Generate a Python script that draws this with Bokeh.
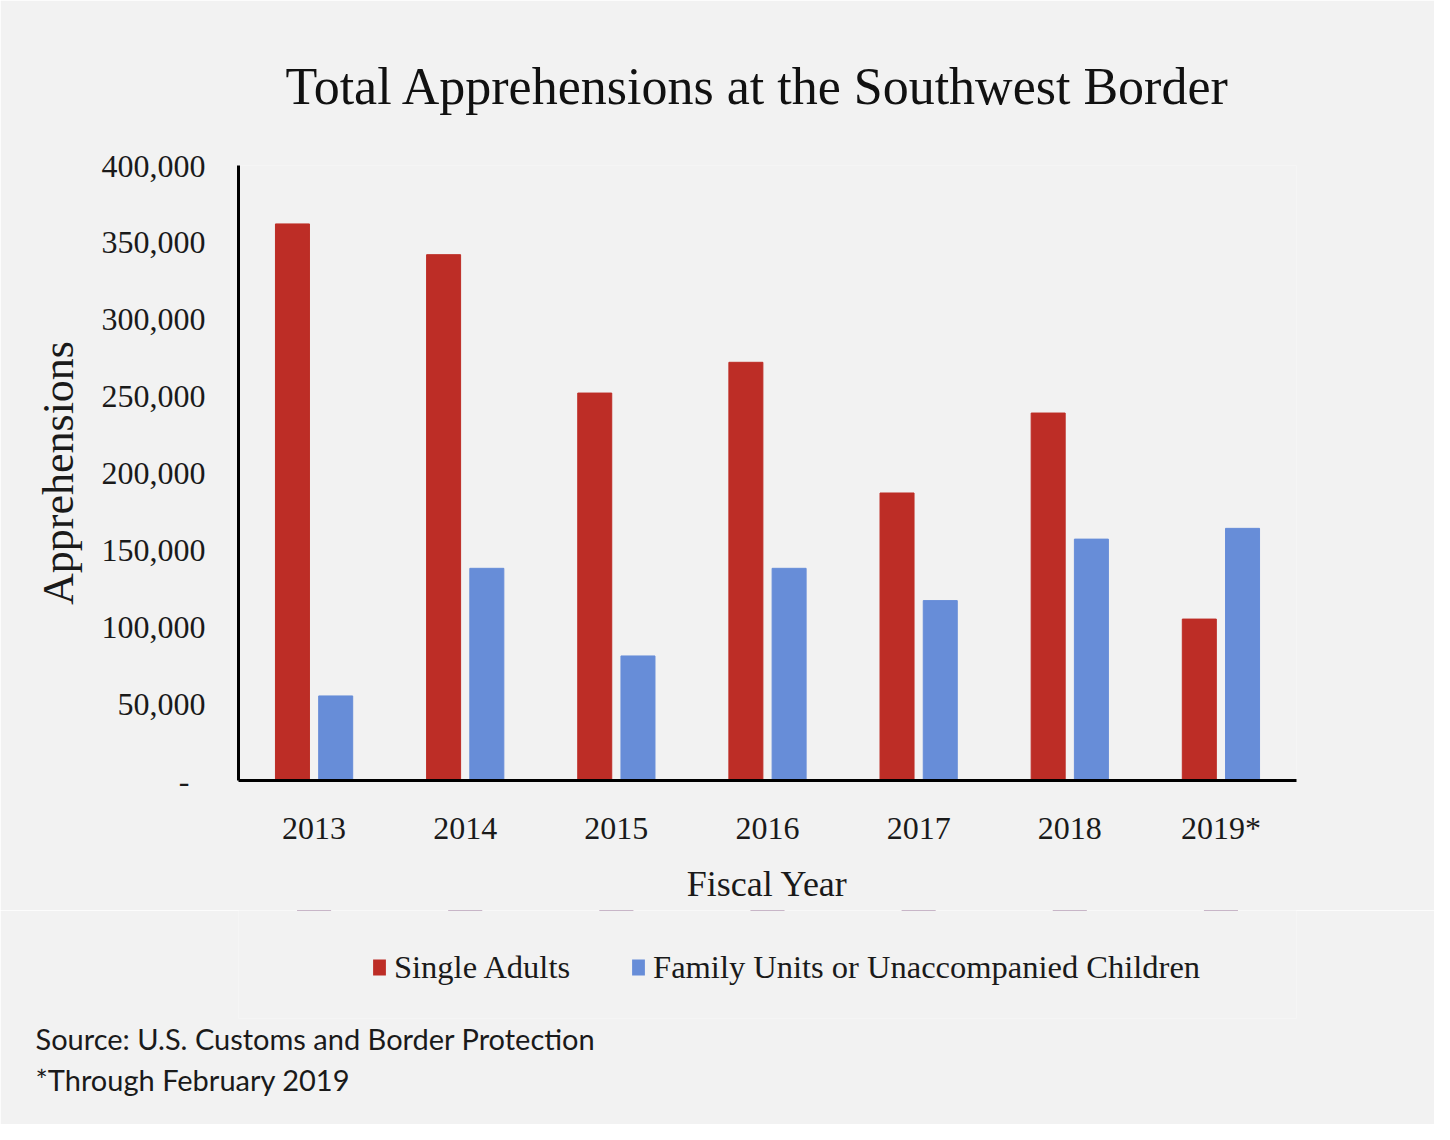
from bokeh.plotting import figure
from bokeh.layouts import column
from bokeh.models import (ColumnDataSource, Legend, LegendItem, Title, NumeralTickFormatter,
                          FixedTicker, Range1d)
from bokeh.transform import dodge
from bokeh.embed import file_html
from bokeh.resources import INLINE

years = ["2013", "2014", "2015", "2016", "2017", "2018", "2019*"]
single_adults = [362000, 342000, 252000, 272000, 187000, 239000, 105000]
family_units = [55000, 138000, 81000, 138000, 117000, 157000, 164000]
y_ticks = [0, 50000, 100000, 150000, 200000, 250000, 300000, 350000, 400000]
series_names = ["Single Adults", "Family Units or Unaccompanied Children"]

RED = "#BD2D26"
BLUE = "#678DD8"
BG = "#F2F2F2"
SERIF = "Liberation Serif"

source = ColumnDataSource(dict(year=years, single=single_adults, family=family_units))

p = figure(x_range=years, y_range=(0, 400000),
           frame_width=1058, frame_height=615,
           output_backend="svg", toolbar_location=None,
           min_border_left=238, min_border_right=138, min_border_top=165, min_border_bottom=130)
p.background_fill_color = BG
p.border_fill_color = BG
p.outline_line_color = None
p.xgrid.grid_line_color = None
p.ygrid.grid_line_color = None
p.x_range.range_padding = 0

p.vbar(x=dodge("year", -0.143, range=p.x_range), top="single", width=0.225,
       source=source, fill_color=RED, line_color=RED)
p.vbar(x=dodge("year", 0.143, range=p.x_range), top="family", width=0.225,
       source=source, fill_color=BLUE, line_color=BLUE)

for ax in (p.xaxis[0], p.yaxis[0]):
    ax.axis_line_color = "black"
    ax.axis_line_width = 3
    ax.major_tick_line_color = None
    ax.minor_tick_line_color = None
    ax.major_label_text_font = SERIF
    ax.major_label_text_color = "#1a1a1a"
    ax.axis_label_text_font = SERIF
    ax.axis_label_text_font_style = "normal"
    ax.axis_label_text_color = "#1a1a1a"

p.yaxis.ticker = FixedTicker(ticks=y_ticks)
p.yaxis.formatter = NumeralTickFormatter(format="0,0")
p.yaxis.major_label_overrides = {0: "-\u2002"}
p.yaxis.major_label_text_font_size = "32px"
p.yaxis.major_label_standoff = 33
p.yaxis.major_tick_out = 0
p.yaxis.axis_label = "Apprehensions"
p.yaxis.axis_label_text_font_size = "44px"
p.yaxis.axis_label_standoff = 16

p.xaxis.major_label_text_font_size = "32px"
p.xaxis.major_label_standoff = 29
p.xaxis.major_tick_out = 0
p.xaxis.axis_label = "Fiscal Year"
p.xaxis.axis_label_text_font_size = "36px"
p.xaxis.axis_label_standoff = 15

p.title.text = "Total Apprehensions at the Southwest Border"
p.title.text_font = SERIF
p.title.text_font_size = "52px"
p.title.text_font_style = "normal"
p.title.text_color = "#111111"
p.title.align = "left"
p.title.offset = 47
p.title.standoff = 102

# ---- footer figure: legend and notes ----
p2 = figure(x_range=years, y_range=Range1d(-800000, -400000),
            frame_width=1058, frame_height=108,
            output_backend="svg", toolbar_location=None,
            min_border_left=238, min_border_right=138, min_border_top=0, min_border_bottom=106)
p2.background_fill_color = BG
p2.border_fill_color = BG
p2.outline_line_color = None
p2.axis.visible = False
p2.grid.visible = False
p2.x_range.range_padding = 0

# same series drawn out of view, only to feed the legend swatches
g1 = p2.vbar(x="year", top="single", width=0.225, source=source, fill_color=RED, line_color=None)
g2 = p2.vbar(x="year", top="family", width=0.225, source=source, fill_color=BLUE, line_color=None)

legend = Legend(items=[LegendItem(label=series_names[0], renderers=[g1]),
                       LegendItem(label=series_names[1], renderers=[g2])],
                orientation="horizontal", location=(133, 31))
legend.label_text_font = SERIF
legend.label_text_font_size = "32.5px"
legend.label_text_color = "#1a1a1a"
legend.glyph_width = 16
legend.glyph_height = 20
legend.label_standoff = 7
legend.label_height = 40
legend.spacing = 60
legend.padding = 0
legend.margin = 0
legend.border_line_color = None
legend.background_fill_alpha = 0
p2.add_layout(legend, "center")

src_title = Title(text="Source: U.S. Customs and Border Protection", align="left", offset=-203,
                  text_font="Lato", text_font_size="29px", text_font_style="normal",
                  text_color="#1a1a1a", standoff=0)
note_title = Title(text="*Through February 2019", align="left", offset=-203,
                   text_font="Lato", text_font_size="29px", text_font_style="normal",
                   text_color="#1a1a1a", standoff=9)
p2.add_layout(src_title, "below")
p2.add_layout(note_title, "below")

layout = column(p, p2, spacing=0)
open("out.html", "w").write(file_html(layout, INLINE))
